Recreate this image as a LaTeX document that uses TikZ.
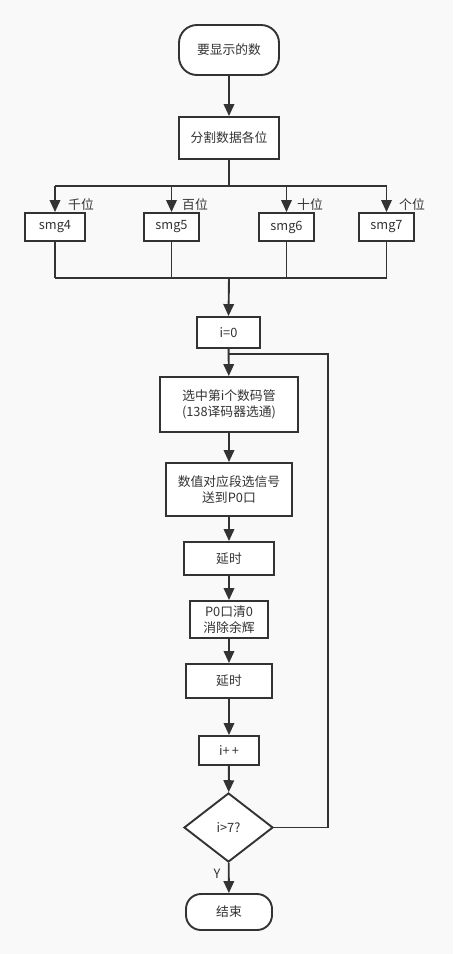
\documentclass[tikz,border=0pt]{standalone}
\usepackage{fontspec}
\setmainfont{Noto Sans CJK SC}
\usetikzlibrary{arrows.meta,shapes.geometric}
\definecolor{ln}{HTML}{333333}
\definecolor{bg}{HTML}{F9F9F9}
\tikzset{
  every node/.style={font=\fontsize{12.8}{16}\selectfont, text=ln},
  box/.style={draw=ln, line width=1.9pt, fill=white, inner sep=0pt, align=center},
  term/.style={box, rounded corners=15pt},
  cond/.style={draw=ln, line width=1.9pt, fill=white, diamond, inner sep=0pt, shape aspect=1.29},
  wire/.style={draw=ln, line width=1.9pt},
  arr/.style={wire, -{Triangle[length=12pt,width=10.5pt]}},
  lbl/.style={inner sep=0pt}
}
\begin{document}
\begin{tikzpicture}[x=1pt,y=-1pt]
\fill[bg] (0,0) rectangle (453,954);
\useasboundingbox (0,0) rectangle (453,954);

\node[term, minimum width=100pt, minimum height=50pt, rounded corners=18pt] (start) at (229,50) {要显示的数};
\node[box, minimum width=100pt, minimum height=42pt] (split) at (229,138) {分割数据各位};

\node[box, minimum width=60pt, minimum height=28pt] (s4) at (55,227) {smg4};
\node[box, minimum width=55pt, minimum height=28pt] (s5) at (171.5,227) {smg5};
\node[box, minimum width=55pt, minimum height=28pt] (s6) at (286.5,227) {smg6};
\node[box, minimum width=55pt, minimum height=28pt] (s7) at (386.5,227) {smg7};

\node[lbl] (l4) at (81,205) {千位};
\node[lbl] (l5) at (195,205) {百位};
\node[lbl] (l6) at (310,205) {十位};
\node[lbl] (l7) at (412,205) {个位};

\node[box, minimum width=63pt, minimum height=31pt] (i0) at (228.5,332.5) {i=0};
\node[box, minimum width=138pt, minimum height=55pt] (sel) at (229,404.5) {选中第i个数码管\\(138译码器选通)};
\node[box, minimum width=126pt, minimum height=53pt] (seg) at (229,489.5) {数值对应段选信号\\送到P0口};
\node[box, minimum width=90pt, minimum height=33pt] (d1) at (229,558.5) {延时};
\node[box, minimum width=78pt, minimum height=37pt] (clr) at (229,619.5) {P0口清0\\消除余辉};
\node[box, minimum width=86pt, minimum height=34pt] (d2) at (229,681) {延时};
\node[box, minimum width=60pt, minimum height=29pt] (inc) at (229,750.5) {i+\,+};
\node[cond, minimum width=89pt, minimum height=69pt] (dec) at (228.5,827.5) {i>7?};
\node[term, minimum width=86pt, minimum height=36pt] (end) at (229,912) {结束};
\node[lbl] (ylab) at (217,874) {Y};

\coordinate (tb) at (229,186);
\coordinate (tl) at (55,186);
\coordinate (tr) at (387,186);
\coordinate (bb) at (229,278);
\coordinate (bl) at (55,278);
\coordinate (br) at (387,278);
\coordinate (jn) at (229,354);
\coordinate (lc) at (328,354);

\draw[arr] (start) -- (split);
\draw[wire] (split.south) -- (tb);
\draw[wire] (tl) -- (tr);
\draw[arr] (tl) -- (s4.north);
\draw[arr] (s5.north |- tb) -- (s5.north);
\draw[arr] (s6.north |- tb) -- (s6.north);
\draw[arr] (s7.north |- tb) -- (s7.north);
\draw[wire] (s4.south) -- (s4.south |- bb);
\draw[wire] (s5.south) -- (s5.south |- bb);
\draw[wire] (s6.south) -- (s6.south |- bb);
\draw[wire] (s7.south) -- (s7.south |- bb);
\draw[wire] (bl) -- (br);
\draw[arr] (bb) -- (i0.north);
\draw[arr] (i0) -- (sel);
\draw[arr] (sel) -- (seg);
\draw[arr] (seg) -- (d1);
\draw[arr] (d1) -- (clr);
\draw[arr] (clr) -- (d2);
\draw[arr] (d2) -- (inc);
\draw[arr] (inc) -- (dec);
\draw[arr] (dec) -- (end);
\draw[wire] (dec.east) -| (lc) -- (jn);
\end{tikzpicture}
\end{document}
